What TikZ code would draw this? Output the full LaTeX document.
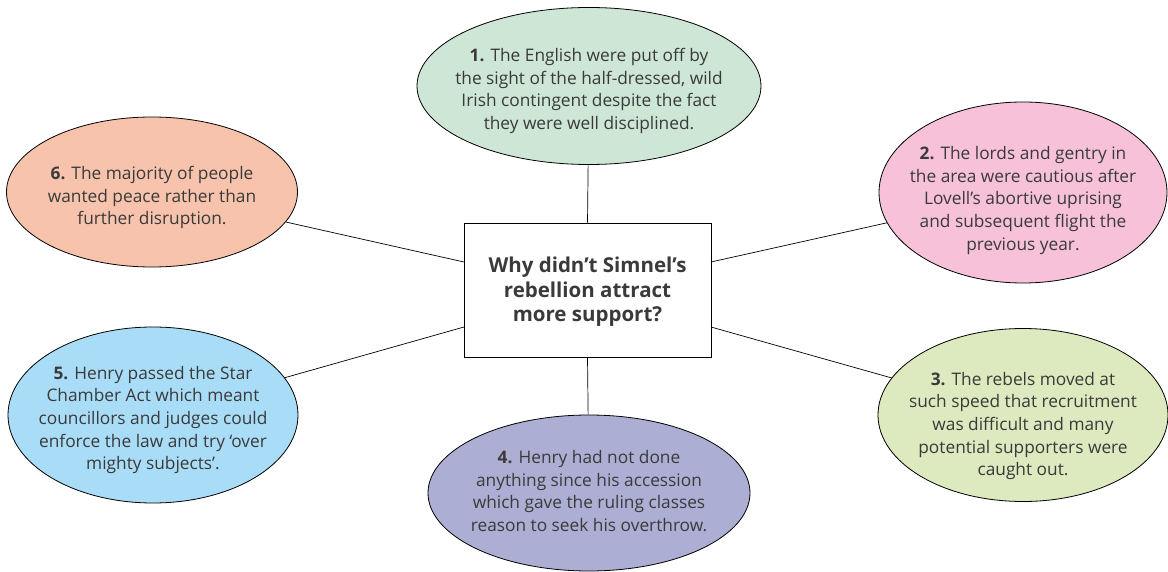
\documentclass[tikz,border=0pt]{standalone}
\usepackage{fontspec}
\setmainfont{Open Sans}
\usetikzlibrary{shapes.geometric}
\definecolor{txt}{HTML}{3A3A3A}
\definecolor{cone}{HTML}{CDE6D5}
\definecolor{ctwo}{HTML}{F6C1D9}
\definecolor{cthree}{HTML}{DDE9BE}
\definecolor{cfour}{HTML}{ADAED3}
\definecolor{cfive}{HTML}{A9DDF7}
\definecolor{csix}{HTML}{F8C3AD}
\tikzset{
  bubble/.style={ellipse, draw=black, line width=0.8pt, inner sep=0pt},
  note/.style={inner sep=0pt, align=center, text=txt,
    font=\fontsize{17.3}{22.7}\selectfont},
  hub/.style={rectangle, draw=black, line width=0.8pt, inner sep=0pt},
  hubtext/.style={inner sep=0pt, align=center, text=txt,
    font=\fontsize{20.5}{24.5}\selectfont\bfseries},
  spoke/.style={draw=black, line width=0.7pt}
}
\begin{document}
\begin{tikzpicture}[x=1pt,y=-1pt]
\useasboundingbox (0,0) rectangle (1168,572);
% central question
\node[hub, minimum width=247pt, minimum height=134pt] (q) at (587.5,290) {};
\node[hubtext, yshift=-2pt] (qt) at (q.center)
  {Why didn’t Simnel’s\\rebellion attract\\more support?};
% surrounding reasons: outlines
\node[bubble, fill=cone, minimum width=344pt, minimum height=157pt] (r1) at (589,86) {};
\node[bubble, fill=ctwo, minimum width=288pt, minimum height=181pt] (r2) at (1023,192.5) {};
\node[bubble, fill=cthree, minimum width=290pt, minimum height=173pt] (r3) at (1023,415) {};
\node[bubble, fill=cfour, minimum width=322pt, minimum height=156pt] (r4) at (589,493) {};
\node[bubble, fill=cfive, minimum width=290pt, minimum height=176pt] (r5) at (153,415) {};
\node[bubble, fill=csix, minimum width=291pt, minimum height=150pt] (r6) at (152,192) {};
% surrounding reasons: texts
\node[note, yshift=-5pt] (t1) at (r1.center)
  {\textbf{1.} The English were put off by\\the sight of the half-dressed, wild\\Irish contingent despite the fact\\they were well disciplined.};
\node[note, yshift=-8pt] (t2) at (r2.center)
  {\textbf{2.} The lords and gentry in\\the area were cautious after\\Lovell’s abortive uprising\\and subsequent flight the\\previous year.};
\node[note, yshift=-11pt] (t3) at (r3.center)
  {\textbf{3.} The rebels moved at\\such speed that recruitment\\was difficult and many\\potential supporters were\\caught out.};
\node[note, yshift=2pt] (t4) at (r4.center)
  {\textbf{4.} Henry had not done\\anything since his accession\\which gave the ruling classes\\reason to seek his overthrow.};
\node[note, yshift=-5pt] (t5) at (r5.center)
  {\textbf{5.} Henry passed the Star\\Chamber Act which meant\\councillors and judges could\\enforce the law and try ‘over\\mighty subjects’.};
\node[note, yshift=-5.5pt] (t6) at (r6.center)
  {\textbf{6.} The majority of people\\wanted peace rather than\\further disruption.};
% attachment points on the box sides
\coordinate (qwa) at (464,262);
\coordinate (qwb) at (464,327);
\coordinate (qea) at (711,262);
\coordinate (qeb) at (711,327);
% spokes
\draw[spoke] (q.north) -- (r1);
\draw[spoke] (q.south) -- (r4);
\draw[spoke] (qwa) -- (r6);
\draw[spoke] (qwb) -- (r5);
\draw[spoke] (qea) -- (r2);
\draw[spoke] (qeb) -- (r3);
\end{tikzpicture}
\end{document}
